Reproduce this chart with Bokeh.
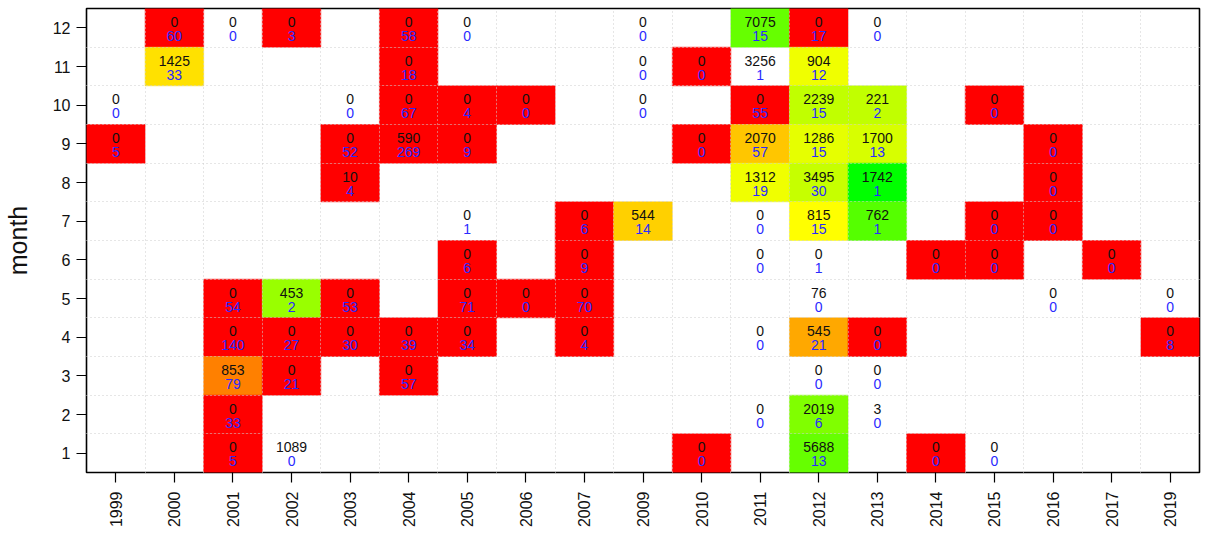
import math
import colorsys
from bokeh.plotting import figure
from bokeh.models import ColumnDataSource, FixedTicker, LinearColorMapper
from bokeh.transform import transform
from bokeh.core.properties import value
from bokeh.embed import file_html
from bokeh.resources import INLINE

nan = float("nan")

years = [1999, 2000, 2001, 2002, 2003, 2004, 2005, 2006, 2007, 2009,
         2010, 2011, 2012, 2013, 2014, 2015, 2016, 2017, 2019]
months = list(range(1, 13))

cell_year = [
    2000, 2001, 2002, 2004, 2005, 2009, 2011, 2012, 2013,
    2000, 2004, 2009, 2010, 2011, 2012,
    1999, 2003, 2004, 2005, 2006, 2009, 2011, 2012, 2013, 2015,
    1999, 2003, 2004, 2005, 2010, 2011, 2012, 2013, 2016,
    2003, 2011, 2012, 2013, 2016,
    2005, 2007, 2009, 2011, 2012, 2013, 2015, 2016,
    2005, 2007, 2011, 2012, 2014, 2015, 2017,
    2001, 2002, 2003, 2005, 2006, 2007, 2012, 2016, 2019,
    2001, 2002, 2003, 2004, 2005, 2007, 2011, 2012, 2013, 2019,
    2001, 2002, 2004, 2012, 2013,
    2001, 2011, 2012, 2013,
    2001, 2002, 2010, 2012, 2014, 2015,
]
cell_month = [
    12, 12, 12, 12, 12, 12, 12, 12, 12,
    11, 11, 11, 11, 11, 11,
    10, 10, 10, 10, 10, 10, 10, 10, 10, 10,
    9, 9, 9, 9, 9, 9, 9, 9, 9,
    8, 8, 8, 8, 8,
    7, 7, 7, 7, 7, 7, 7, 7,
    6, 6, 6, 6, 6, 6, 6,
    5, 5, 5, 5, 5, 5, 5, 5, 5,
    4, 4, 4, 4, 4, 4, 4, 4, 4, 4,
    3, 3, 3, 3, 3,
    2, 2, 2, 2,
    1, 1, 1, 1, 1, 1,
]
cell_top = [
    0, 0, 0, 0, 0, 0, 7075, 0, 0,
    1425, 0, 0, 0, 3256, 904,
    0, 0, 0, 0, 0, 0, 0, 2239, 221, 0,
    0, 0, 590, 0, 0, 2070, 1286, 1700, 0,
    10, 1312, 3495, 1742, 0,
    0, 0, 544, 0, 815, 762, 0, 0,
    0, 0, 0, 0, 0, 0, 0,
    0, 453, 0, 0, 0, 0, 76, 0, 0,
    0, 0, 0, 0, 0, 0, 0, 545, 0, 0,
    853, 0, 0, 0, 0,
    0, 0, 2019, 3,
    0, 1089, 0, 5688, 0, 0,
]
cell_bottom = [
    60, 0, 3, 58, 0, 0, 15, 17, 0,
    33, 18, 0, 0, 1, 12,
    0, 0, 67, 4, 0, 0, 55, 15, 2, 0,
    5, 52, 269, 9, 0, 57, 15, 13, 0,
    4, 19, 30, 1, 0,
    1, 6, 14, 0, 15, 1, 0, 0,
    6, 9, 0, 1, 0, 0, 0,
    54, 2, 53, 71, 0, 70, 0, 0, 0,
    140, 27, 30, 39, 34, 4, 0, 21, 0, 8,
    79, 21, 57, 0, 0,
    33, 0, 6, 0,
    5, 0, 0, 13, 0, 0,
]
cell_score = [
    0, nan, 0, 0, nan, nan, 0.80, 0, nan,
    0.44, 0, nan, 0, nan, 0.53,
    nan, nan, 0, 0, 0, nan, 0, 0.62, 0.62, 0,
    0, 0, 0, 0, 0, 0.39, 0.55, 0.58, 0,
    0, 0.53, 0.61, 1.0, 0,
    nan, 0, 0.41, nan, 0.50, 0.83, 0, 0,
    0, 0, nan, nan, 0, 0, 0,
    0, 0.70, 0, 0, 0, 0, nan, nan, nan,
    0, 0, 0, 0, 0, 0, nan, 0.33, 0, 0,
    0.25, 0, 0, nan, nan,
    0, nan, 0.75, nan,
    0, nan, 0, 0.80, 0, nan,
]

# ---- build sources ----
xi = {y: i for i, y in enumerate(years)}
all_src = ColumnDataSource(dict(
    x=[xi[y] for y in cell_year],
    y=cell_month,
    top=[str(v) for v in cell_top],
    bottom=[str(v) for v in cell_bottom],
))
fill_idx = [i for i, s in enumerate(cell_score) if not math.isnan(s)]
fill_src = ColumnDataSource(dict(
    x=[xi[cell_year[i]] for i in fill_idx],
    y=[cell_month[i] for i in fill_idx],
    score=[cell_score[i] for i in fill_idx],
))

palette = []
for k in range(241):
    r, g, b = colorsys.hsv_to_rgb((k / 2.0) / 360.0, 1, 1)
    palette.append("#%02x%02x%02x" % (round(r * 255), round(g * 255), round(b * 255)))
mapper = LinearColorMapper(palette=palette, low=0, high=1, nan_color="white")

p = figure(width=1197, height=529, output_backend="svg", toolbar_location=None,
           x_range=(-0.5, len(years) - 0.5), y_range=(0.5, 12.5),
           frame_width=1113, frame_height=464,
           min_border_left=81, min_border_right=3, min_border_top=8, min_border_bottom=10)
p.background_fill_color = "white"
p.border_fill_color = "white"
p.outline_line_color = "black"
p.outline_line_width = 1.6

p.rect(x="x", y="y", width=1, height=1, source=fill_src,
       fill_color=transform("score", mapper), line_color=transform("score", mapper),
       line_width=0.5)

font = value("Liberation Sans")
t1 = p.text(x="x", y="y", text="top", source=all_src, text_font=font,
            text_font_size="14px", text_color="#111111", text_align="center",
            text_baseline="middle", y_offset=-6)
t2 = p.text(x="x", y="y", text="bottom", source=all_src, text_font=font,
            text_font_size="14px", text_color="#2a2aff", text_align="center",
            text_baseline="middle", y_offset=8)
t1.level = "overlay"
t2.level = "overlay"

# grid at cell boundaries
p.xgrid.ticker = FixedTicker(ticks=[i + 0.5 for i in range(len(years) - 1)])
p.ygrid.ticker = FixedTicker(ticks=[m + 0.5 for m in months[:-1]])
for g in (p.xgrid, p.ygrid):
    g.grid_line_color = "#cccccc"
    g.grid_line_dash = "1 3"
    g.grid_line_width = 1
    g.level = "annotation"

# axes
p.xaxis.ticker = FixedTicker(ticks=list(range(len(years))))
p.xaxis.major_label_overrides = {i: str(y) for i, y in enumerate(years)}
p.xaxis.major_label_orientation = math.pi / 2
p.yaxis.ticker = FixedTicker(ticks=months)
p.yaxis.axis_label = "month"
for ax in (p.xaxis, p.yaxis):
    ax.axis_line_color = None
    ax.major_tick_line_color = "black"
    ax.major_tick_line_width = 1.2
    ax.major_tick_out = 10
    ax.major_tick_in = 0
    ax.minor_tick_line_color = None
    ax.major_label_text_font = "Liberation Sans"
    ax.major_label_text_font_size = "16px"
    ax.major_label_text_color = "#111111"
p.xaxis.major_label_standoff = 9
p.yaxis.major_label_standoff = 6
p.yaxis.axis_label_text_font = "Liberation Sans"
p.yaxis.axis_label_text_font_size = "25px"
p.yaxis.axis_label_text_font_style = "normal"
p.yaxis.axis_label_text_color = "#111111"
p.yaxis.axis_label_standoff = 18

open("out.html", "w").write(file_html(p, INLINE))
